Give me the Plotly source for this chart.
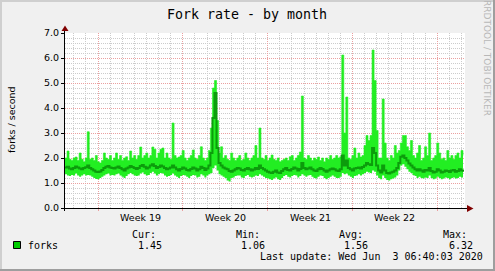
import plotly.graph_objects as go
import pandas as pd

# ---------------- data ----------------
title_text = "Fork rate - by month"
y_title = "forks / second"
series_name = "forks"
week_labels = ["Week 19", "Week 20", "Week 21", "Week 22"]
week_label_times = ["2020-05-07 12:00", "2020-05-14 12:00", "2020-05-21 12:00", "2020-05-28 12:00"]
stat_names = ["Cur:", "Min:", "Avg:", "Max:"]
stat_values = ["1.45", "1.06", "1.56", "6.32"]
last_update = "Last update: Wed Jun\u00a0 3 06:40:03 2020"
watermark = "RRDTOOL / TOBI OETIKER"
range_start = "2020-05-01 06:40:03"
range_end = "2020-06-03 06:40:03"
week_start = "2020-05-04"

fork_max = [
    2.0, 2.28, 1.95, 1.9, 2.0, 2.04, 1.9, 2.2, 1.95, 1.85, 2.0, 3.05,
    1.95, 2.0, 1.9, 2.1, 1.85, 1.8, 1.9, 2.2, 2.0, 1.95, 2.1, 1.9,
    2.0, 2.2, 1.95, 2.1, 1.9, 2.0, 2.05, 1.9, 2.28, 2.0, 2.1, 1.95,
    2.1, 2.44, 2.0, 2.1, 2.2, 2.0, 2.1, 2.44, 2.35, 2.0, 2.2, 2.35,
    2.4, 2.0, 2.2, 2.0, 1.95, 3.4, 2.1, 2.0, 2.04, 2.1, 2.3, 2.0,
    1.9, 2.0, 2.1, 2.32, 2.0, 1.95, 2.1, 2.45, 2.0, 1.9, 2.0, 2.3,
    3.2, 4.8, 5.1, 3.5, 2.2, 2.45, 2.0, 2.1, 1.95, 1.9, 2.2, 2.0,
    1.9, 2.0, 2.1, 1.9, 1.95, 2.2, 2.0, 1.9, 2.0, 2.1, 2.5, 2.0,
    3.2, 2.0, 1.95, 2.1, 1.9, 2.0, 2.12, 1.95, 1.9, 2.0, 1.85, 1.9,
    1.95, 2.0, 1.9, 2.05, 2.1, 1.9, 2.0, 2.1, 2.24, 4.48, 2.0, 1.95,
    2.1, 2.0, 1.9, 2.0, 1.95, 2.04, 1.9, 2.0, 1.85, 2.0, 1.95, 2.1,
    1.95, 2.0, 2.1, 2.0, 2.05, 6.12, 3.0, 4.44, 2.0, 1.95, 2.1, 2.4,
    2.0, 2.2, 2.04, 2.1, 2.5, 2.9, 2.7, 2.9, 6.32, 5.1, 3.1, 2.0,
    2.0, 4.36, 2.6, 2.0, 1.9, 2.1, 2.0, 2.5, 2.2, 2.3, 2.6, 2.9,
    2.9, 2.45, 2.3, 2.7, 2.1, 2.0, 2.2, 2.5, 1.9, 2.0, 2.45, 2.1,
    3.0, 1.9, 2.0, 2.1, 2.6, 2.2, 1.95, 2.0, 1.9, 2.3, 2.0, 2.1,
    1.95, 2.1, 2.2, 2.0, 2.3, 2.1,
]

fork_avg = [
    1.62, 1.65, 1.58, 1.55, 1.6, 1.66, 1.62, 1.58, 1.55, 1.6, 1.63, 1.7,
    1.6, 1.55, 1.5, 1.45, 1.44, 1.46, 1.52, 1.6, 1.65, 1.68, 1.62, 1.6,
    1.58, 1.62, 1.66, 1.6, 1.55, 1.5, 1.58, 1.62, 1.68, 1.64, 1.6, 1.56,
    1.6, 1.68, 1.72, 1.65, 1.58, 1.62, 1.7, 1.75, 1.68, 1.6, 1.64, 1.7,
    1.66, 1.6, 1.55, 1.58, 1.62, 1.7, 1.62, 1.55, 1.5, 1.56, 1.62, 1.58,
    1.52, 1.5, 1.56, 1.62, 1.58, 1.5, 1.55, 1.65, 1.6, 1.52, 1.58, 1.7,
    2.2, 3.6, 4.6, 2.4, 1.8, 1.7, 1.62, 1.58, 1.55, 1.48, 1.45, 1.5,
    1.55, 1.6, 1.58, 1.52, 1.5, 1.56, 1.6, 1.55, 1.5, 1.54, 1.6, 1.56,
    1.7, 1.6, 1.55, 1.5, 1.45, 1.42, 1.4, 1.45, 1.5, 1.42, 1.4, 1.48,
    1.55, 1.6, 1.52, 1.5, 1.56, 1.62, 1.58, 1.5, 1.56, 1.8, 1.6, 1.55,
    1.58, 1.62, 1.55, 1.5, 1.48, 1.55, 1.6, 1.56, 1.5, 1.45, 1.5, 1.55,
    1.58, 1.55, 1.5, 1.48, 1.55, 2.1, 1.7, 1.9, 1.6, 1.55, 1.5, 1.58,
    1.6, 1.62, 1.58, 1.64, 1.7, 1.8, 1.75, 1.72, 2.4, 2.2, 1.7, 1.5,
    1.42, 1.7, 1.5, 1.4, 1.38, 1.42, 1.45, 1.5, 1.6, 1.8, 2.05, 2.1,
    2.0, 1.9, 1.78, 1.7, 1.62, 1.55, 1.5, 1.55, 1.5, 1.45, 1.52, 1.5,
    1.6, 1.48, 1.42, 1.45, 1.55, 1.5, 1.42, 1.45, 1.5, 1.48, 1.44, 1.5,
    1.52, 1.45, 1.48, 1.55, 1.5, 1.45,
]

fork_min = [
    1.35, 1.3, 1.28, 1.32, 1.3, 1.38, 1.3, 1.25, 1.3, 1.35, 1.3, 1.32,
    1.3, 1.25, 1.2, 1.16, 1.15, 1.2, 1.25, 1.3, 1.35, 1.38, 1.3, 1.32,
    1.3, 1.35, 1.38, 1.3, 1.25, 1.2, 1.28, 1.35, 1.4, 1.35, 1.3, 1.28,
    1.3, 1.38, 1.42, 1.35, 1.3, 1.32, 1.4, 1.45, 1.38, 1.3, 1.35, 1.4,
    1.38, 1.3, 1.25, 1.28, 1.32, 1.38, 1.3, 1.25, 1.2, 1.28, 1.32, 1.3,
    1.25, 1.2, 1.28, 1.32, 1.3, 1.22, 1.25, 1.35, 1.3, 1.22, 1.3, 1.35,
    1.4, 1.6, 1.7, 1.5, 1.35, 1.3, 1.25, 1.2, 1.1, 1.06, 1.2, 1.22,
    1.28, 1.3, 1.3, 1.22, 1.2, 1.28, 1.32, 1.25, 1.22, 1.25, 1.3, 1.28,
    1.35, 1.3, 1.25, 1.2, 1.18, 1.15, 1.12, 1.18, 1.22, 1.15, 1.12, 1.2,
    1.28, 1.32, 1.25, 1.22, 1.28, 1.32, 1.3, 1.22, 1.28, 1.35, 1.3, 1.25,
    1.3, 1.32, 1.25, 1.2, 1.18, 1.25, 1.3, 1.28, 1.2, 1.15, 1.2, 1.25,
    1.3, 1.25, 1.2, 1.2, 1.25, 1.4, 1.35, 1.38, 1.3, 1.25, 1.2, 1.28,
    1.3, 1.35, 1.3, 1.35, 1.4, 1.45, 1.42, 1.4, 1.5, 1.45, 1.3, 1.2,
    1.15, 1.3, 1.2, 1.12, 1.1, 1.15, 1.18, 1.22, 1.3, 1.5, 1.7, 1.75,
    1.65, 1.55, 1.45, 1.4, 1.32, 1.28, 1.2, 1.25, 1.2, 1.18, 1.22, 1.2,
    1.3, 1.2, 1.15, 1.18, 1.25, 1.2, 1.15, 1.18, 1.22, 1.2, 1.15, 1.2,
    1.22, 1.18, 1.2, 1.25, 1.22, 1.18,
]

# ---------------- style ----------------
W, H = 495, 271
PL, PR, PT, PB = 65, 465, 33, 208   # plot area in pixels
LIGHT = "#22EE22"
DARK = "#0C9C0C"
LEGEND_SQ = "#00CC00"
GRID = "#CCCCCC"
MGRID = "#EBA0A0"
ARROW = "#800000"
MONO = "DejaVu Sans Mono"
SANS = "DejaVu Sans"


def px(x):
    return (x - PL) / (PR - PL)


def py(y):
    return (PB - y) / (PB - PT)


times = pd.date_range(range_start, periods=len(fork_max), freq="4h")

fig = go.Figure()
fig.add_trace(go.Scatter(x=times, y=fork_min, mode="lines",
                         line=dict(width=0, shape="hv", color=LIGHT),
                         hoverinfo="skip", showlegend=False))
fig.add_trace(go.Scatter(x=times, y=fork_max, mode="lines",
                         line=dict(width=0.6, shape="hv", color=LIGHT),
                         fill="tonexty", fillcolor=LIGHT,
                         hoverinfo="skip", showlegend=False))
fig.add_trace(go.Scatter(x=times, y=fork_avg, mode="lines",
                         line=dict(width=2, color=DARK, shape="hv"),
                         name=series_name, showlegend=False))

fig.update_layout(
    width=W, height=H,
    margin=dict(l=PL, r=W - PR, t=PT, b=H - PB, pad=0),
    paper_bgcolor="#F0F0F0", plot_bgcolor="#FFFFFF",
    showlegend=False,
    xaxis=dict(
        type="date", range=[range_start, range_end],
        tickmode="linear", tick0=week_start, dtick=7 * 86400000,
        showticklabels=False, showgrid=True, gridcolor=MGRID,
        griddash="1px,1px", gridwidth=1,
        ticks="outside", ticklen=2, tickcolor=MGRID,
        showline=False, zeroline=False, fixedrange=True,
        minor=dict(tickmode="linear", tick0=week_start, dtick=86400000,
                   showgrid=True, gridcolor=GRID, griddash="1px,1px",
                   gridwidth=1, ticks=""),
    ),
    yaxis=dict(
        range=[0, 7], tickmode="linear", tick0=0, dtick=1, tickformat=".1f",
        showgrid=True, gridcolor=MGRID, griddash="1px,1px", gridwidth=1,
        ticks="outside", ticklen=3, tickcolor="#000000",
        tickfont=dict(family=SANS, size=9.5, color="#000000"),
        showline=False, zeroline=False, fixedrange=True,
        minor=dict(tickmode="linear", tick0=0, dtick=0.2, showgrid=True,
                   gridcolor=GRID, griddash="1px,1px", gridwidth=1, ticks=""),
    ),
)

shapes = []


def rect(x0, y0, x1, y1, fill, line=None):
    shapes.append(dict(type="rect", xref="paper", yref="paper",
                       x0=px(x0), x1=px(x1), y0=py(y0), y1=py(y1),
                       fillcolor=fill, layer="above",
                       line=dict(width=1 if line else 0, color=line or fill)))


def tri(points, color):
    d = "M " + " L ".join(f"{px(a)},{py(b)}" for a, b in points) + " Z"
    shapes.append(dict(type="path", xref="paper", yref="paper", path=d,
                       fillcolor=color, line=dict(width=0), layer="above"))


# frame shading
rect(0, 0, W, 2, "#CFCFCF")
rect(0, 0, 2, H, "#CFCFCF")
rect(0, H - 2, W, H, "#9E9E9E")
rect(W - 2, 0, W, H, "#9E9E9E")

# axes
rect(64, 30, 65, 211, "#000000")
rect(62, 208, 467, 209, "#000000")
tri([(65, 25.5), (61.5, 31), (68.5, 31)], ARROW)
tri([(473.5, 208.5), (467, 205), (467, 212)], ARROW)

# legend square
rect(13.5, 241.5, 20.5, 248.5, LEGEND_SQ, line="#000000")

fig.update_layout(shapes=shapes)

ann = []


def text(x, y, s, font, size, color="#000000", xanchor="left", angle=0):
    ann.append(dict(xref="paper", yref="paper", x=px(x), y=py(y), text=s,
                    showarrow=False, xanchor=xanchor, yanchor="middle",
                    textangle=angle,
                    font=dict(family=font, size=size, color=color)))


text(247, 14, title_text, MONO, 13.3, xanchor="center")
text(11, 120, y_title, SANS, 9.5, xanchor="center", angle=-90)
text(487, 58, watermark, SANS, 9, color="#B8B8B8", xanchor="center", angle=90)

for t, lab in zip(week_label_times, week_labels):
    ann.append(dict(xref="x", yref="paper", x=t, y=py(217), text=lab,
                    showarrow=False, xanchor="center", yanchor="middle",
                    font=dict(family=SANS, size=9.5, color="#000000")))

text(26, 245, series_name, MONO, 10)
name_x = [130, 234, 337, 441]
val_x = [136, 239, 342, 447]
for nx, vx, n, v in zip(name_x, val_x, stat_names, stat_values):
    text(nx, 234, n, MONO, 10)
    text(vx, 245, v, MONO, 10)
text(258, 256, last_update, MONO, 10)

fig.update_layout(annotations=ann)

fig.write_html("out.html")
